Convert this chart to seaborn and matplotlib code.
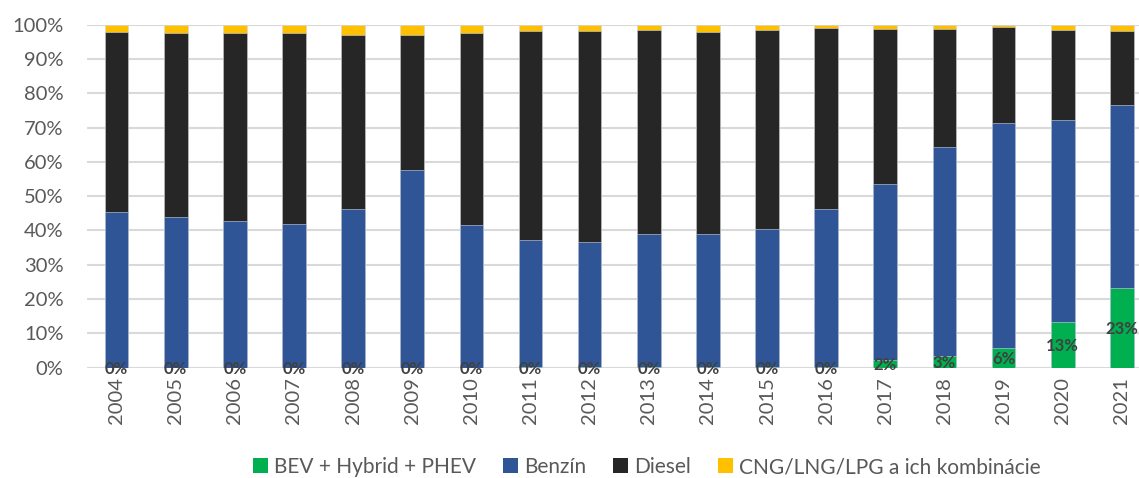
import numpy as np
import pandas as pd
import seaborn as sns
from matplotlib import pyplot as plt
from matplotlib.patches import Patch

years = [str(y) for y in range(2004, 2022)]
# shares in %
bev = [0.0, 0.0, 0.0, 0.0, 0.0, 0.0, 0.0, 0.1, 0.1, 0.1, 0.1, 0.2, 0.3, 2.2, 3.3, 5.7, 13.2, 23.2]
benzin_top = [45.5, 43.8, 42.7, 41.8, 46.2, 57.6, 41.6, 37.1, 36.6, 39.0, 39.0, 40.4, 46.2, 53.5, 64.3, 71.4, 72.1, 76.6]
diesel_top = [97.9, 97.6, 97.6, 97.6, 97.1, 96.9, 97.6, 98.3, 98.2, 98.5, 98.0, 98.5, 99.0, 98.7, 98.7, 99.2, 98.5, 98.2]
benzin = [b - g for b, g in zip(benzin_top, bev)]
diesel = [d - b for d, b in zip(diesel_top, benzin_top)]
cng = [100 - d for d in diesel_top]

labels = ['BEV + Hybrid + PHEV', 'Benzín', 'Diesel', 'CNG/LNG/LPG a ich kombinácie']
colors = ['#00B050', '#2F5597', '#262626', '#FFC000']

df = pd.DataFrame({'year': years, 'bev': bev, 'benzin': benzin, 'diesel': diesel, 'cng': cng})
df['c1'] = df['bev']
df['c2'] = df['c1'] + df['benzin']
df['c3'] = df['c2'] + df['diesel']
df['c4'] = df['c3'] + df['cng']

sns.set_style('white')
plt.rcParams['font.family'] = ['Lato', 'DejaVu Sans']

fig = plt.figure(figsize=(11.39, 4.78), dpi=100)
ax = fig.add_axes([87 / 1139, (478 - 367.7) / 478, (1139 - 87) / 1139, 343 / 478])

# draw cumulative layers from the top down
for col, c in zip(['c4', 'c3', 'c2', 'c1'], colors[::-1]):
    sns.barplot(data=df, x='year', y=col, color=c, width=0.4, saturation=1,
                edgecolor='#d0d8e8', linewidth=0.4, ax=ax, zorder=2)

for i, g in enumerate(bev):
    ax.text(i, g / 2 - 0.4, f'{round(g)}%', ha='center', va='center', fontsize=12,
            fontweight='bold', color='#404040', zorder=5)

ax.set_ylim(0, 100)
ax.set_xlim(-0.5, 17.29)
ax.set_yticks(range(0, 101, 10))
ax.set_yticklabels([f'{v}%' for v in range(0, 101, 10)], fontsize=14.5, color='#595959')
ax.tick_params(axis='x', labelrotation=90, labelsize=14.5, labelcolor='#595959', length=0, pad=7)
ax.tick_params(axis='y', length=0, pad=17)
ax.yaxis.grid(True, color='#D9D9D9', linewidth=1.5, zorder=0)
ax.set_axisbelow(True)
ax.set_xlabel('')
ax.set_ylabel('')
for s in ax.spines.values():
    s.set_visible(False)

handles = [Patch(facecolor=c, edgecolor='none') for c in colors]
leg = fig.legend(handles, labels, loc='center', bbox_to_anchor=(0.568, 11 / 478), ncol=4,
                 frameon=False, fontsize=15, handlelength=0.7, handleheight=0.7,
                 handletextpad=0.3, columnspacing=1.3, borderaxespad=0)
for t in leg.get_texts():
    t.set_color('#595959')

fig.savefig('out.png', dpi=100)
